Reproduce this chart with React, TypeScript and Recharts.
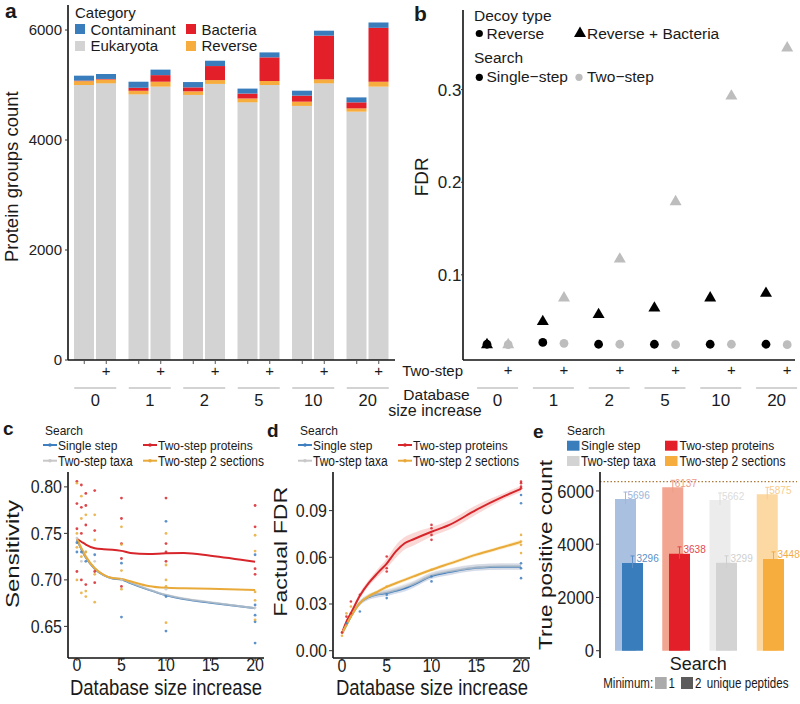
import React from "react";
import {
  BarChart,
  Bar,
  XAxis,
  YAxis,
  ComposedChart,
  Scatter,
  Line,
  Area,
  ReferenceLine,
  LabelList,
  Cell,
} from "recharts";

// ---------- panel a: protein groups by category ----------
const dbSizes = ["0", "1", "2", "5", "10", "20"];
const eukSingle = [5000, 4830, 4820, 4685, 4620, 4515];
const revSingle = [70, 65, 65, 70, 77, 60];
const bacSingle = [10, 55, 72, 90, 110, 110];
const conSingle = [90, 110, 97, 90, 90, 90];
const eukTwo = [5030, 4970, 5020, 5000, 5030, 4970];
const revTwo = [70, 90, 70, 73, 73, 90];
const bacTwo = [10, 120, 255, 430, 795, 980];
const conTwo = [90, 100, 97, 90, 90, 97];

// ---------- panel b: FDR ----------
const fdrRevSingle = [0.025, 0.027, 0.025, 0.025, 0.025, 0.025];
const fdrRevTwo = [0.0245, 0.026, 0.025, 0.0245, 0.025, 0.0245];
const fdrBacSingle = [0.0245, 0.0495, 0.057, 0.064, 0.075, 0.08];
const fdrBacTwo = [0.0245, 0.075, 0.117, 0.179, 0.293, 0.345];

// ---------- panel c: sensitivity ----------
const sensX = [0, 0.5, 1, 2, 3, 4, 5, 6, 8, 10, 12, 15, 20];
const sensSingle = [0.743, 0.733, 0.724, 0.712, 0.705, 0.7015, 0.7005, 0.6965, 0.6895, 0.6835, 0.6795, 0.6755, 0.6695];
const sensProteins = [0.744, 0.741, 0.738, 0.734, 0.733, 0.7325, 0.7312, 0.729, 0.7278, 0.7286, 0.7288, 0.726, 0.7195];
const sensTaxa = [0.744, 0.734, 0.725, 0.7125, 0.7055, 0.702, 0.701, 0.697, 0.69, 0.684, 0.68, 0.676, 0.6695];
const sens2Sections = [0.744, 0.734, 0.725, 0.7125, 0.7055, 0.702, 0.701, 0.6985, 0.6935, 0.6915, 0.691, 0.6905, 0.689];

const sensPtsSingle = [[0, 0.74], [0, 0.73], [0.5, 0.73], [1, 0.72], [2, 0.727], [5, 0.718], [5, 0.66], [10, 0.763], [10, 0.682], [10, 0.645], [20, 0.727], [20, 0.673], [20, 0.662], [20, 0.655], [20, 0.632]];
const sensPtsProteins = [[0, 0.806], [0, 0.782], [0, 0.755], [0, 0.709], [0.5, 0.802], [0.5, 0.778], [0.5, 0.75], [0.5, 0.7], [1, 0.793], [1, 0.78], [1, 0.759], [1, 0.695], [2, 0.796], [2, 0.753], [2, 0.709], [2, 0.697], [5, 0.788], [5, 0.766], [5, 0.739], [5, 0.723], [5, 0.693], [10, 0.788], [10, 0.739], [10, 0.73], [10, 0.72], [20, 0.78], [20, 0.757], [20, 0.712], [20, 0.706]];
const sensPtsTaxa = [[0, 0.745], [0.5, 0.72], [1, 0.73], [2, 0.72], [5, 0.7], [10, 0.69], [20, 0.67]];
const sensPts2Sections = [[0, 0.804], [0, 0.75], [0, 0.735], [0, 0.7], [0.5, 0.79], [0.5, 0.766], [0.5, 0.725], [0.5, 0.686], [1, 0.77], [1, 0.73], [1, 0.688], [1, 0.682], [2, 0.77], [2, 0.743], [2, 0.706], [2, 0.676], [5, 0.757], [5, 0.738], [5, 0.71], [5, 0.69], [10, 0.75], [10, 0.716], [10, 0.7], [10, 0.693], [10, 0.654], [20, 0.748], [20, 0.731], [20, 0.687], [20, 0.678], [20, 0.657]];

// ---------- panel d: factual FDR ----------
const factX = [0, 0.5, 1, 2, 3, 4, 5, 6, 7, 8, 10, 12, 15, 18, 20];
const factSingle = [0.011, 0.0165, 0.022, 0.0306, 0.0345, 0.0362, 0.037, 0.0385, 0.04, 0.0425, 0.048, 0.0505, 0.0533, 0.054, 0.054];
const factProteins = [0.0113, 0.0187, 0.0241, 0.0353, 0.0435, 0.05, 0.056, 0.0636, 0.069, 0.0716, 0.0764, 0.0808, 0.0905, 0.099, 0.104];
const factTaxa = [0.011, 0.0165, 0.022, 0.0306, 0.0347, 0.0365, 0.0375, 0.039, 0.041, 0.043, 0.0485, 0.051, 0.0535, 0.0542, 0.0542];
const fact2Sections = [0.011, 0.0165, 0.022, 0.0306, 0.035, 0.038, 0.041, 0.0433, 0.0455, 0.0477, 0.052, 0.0559, 0.0617, 0.0666, 0.0699];
const factSeSingle = [0.001, 0.001, 0.0012, 0.0015, 0.0018, 0.002, 0.002, 0.002, 0.002, 0.002, 0.002, 0.002, 0.002, 0.002, 0.002];
const factSeProteins = [0.001, 0.001, 0.0015, 0.002, 0.002, 0.0025, 0.003, 0.004, 0.004, 0.004, 0.003, 0.003, 0.003, 0.002, 0.002];
const factSe2Sections = [0.001, 0.001, 0.0012, 0.0012, 0.0012, 0.0012, 0.0012, 0.0012, 0.0012, 0.0012, 0.0012, 0.0012, 0.0012, 0.0012, 0.0015];

const factPtsSingle = [[0.5, 0.0176], [2, 0.0252], [5, 0.0359], [5, 0.0338], [10, 0.0477], [10, 0.0445], [20, 0.1], [20, 0.0947], [20, 0.0562], [20, 0.053], [20, 0.0466]];
const factPtsProteins = [[0, 0.0117], [0.5, 0.0219], [1, 0.0316], [1, 0.024], [2, 0.0359], [5, 0.0605], [5, 0.053], [5, 0.0509], [10, 0.0808], [10, 0.0787], [10, 0.0744], [10, 0.0712], [20, 0.1086], [20, 0.1076], [20, 0.1054], [20, 0.1044]];
const factPts2Sections = [[0, 0.0096], [0.5, 0.024], [1, 0.0284], [2, 0.0306], [5, 0.0412], [10, 0.052], [20, 0.0744], [20, 0.0701], [20, 0.068], [20, 0.0627]];

// ---------- panel e: true positives ----------
const searchNames = ["Single step", "Two-step proteins", "Two-step taxa", "Two-step 2 sections"];
const tpMin1 = [5696, 6137, 5662, 5875];
const tpMin2 = [3296, 3638, 3299, 3448];
const tpReference = 6350;

const FONT = "'Liberation Sans', Arial, Helvetica, sans-serif";
const INK = "#1a1a1a";
const C_BLUE = "#3A7DBC";
const C_RED = "#E3202A";
const C_GREY = "#D3D3D3";
const C_ORANGE = "#F7AC3E";
const L_BLUE = "#3F7FBF";
const L_RED = "#D7262B";
const L_GREY = "#C8C8C8";
const L_ORANGE = "#E9AA3A";
const lightFill = ["#A9C0E1", "#F2A591", "#ECECEC", "#FCD8A2"];
const darkFill = [C_BLUE, C_RED, C_GREY, C_ORANGE];
const lightNote = ["#9EB6DA", "#EE9C86", "#DCDCDC", "#F8CC8E"];
const darkNote = ["#5C8FC6", "#E2474B", "#CFCFCF", "#F2AC45"];

const AXIS = { stroke: "#111", strokeWidth: 1.6 };
const TICKL = { stroke: "#333", strokeWidth: 1 };

const aRows = dbSizes.map((d, i) => ({
  d,
  eukS: eukSingle[i], revS: revSingle[i], bacS: bacSingle[i], conS: conSingle[i],
  eukT: eukTwo[i], revT: revTwo[i], bacT: bacTwo[i], conT: conTwo[i],
}));
const PAIR = 0.19;
const bPts = (vals: number[], side: number) => vals.map((v, i) => ({ x: i + side * PAIR, y: v }));
const pts = (arr: number[][]) => arr.map(([x, y]) => ({ x, y }));
const curve = (xs: number[], ys: number[]) => xs.map((x, i) => ({ x, y: ys[i] }));
const band = (xs: number[], ys: number[], se: number[]) => xs.map((x, i) => ({ x, band: [ys[i] - se[i], ys[i] + se[i]] }));
const eRows = searchNames.map((n, i) => ({ n, v1: tpMin1[i], v2: tpMin2[i] }));

const yTick = (right: number, size: number, sy: number, digits: number) => (p: any) => (
  <text transform={`translate(${right},${p.y}) scale(1,${sy})`} textAnchor="end" dy="0.35em" fontSize={size} fill="#222">
    {Number(p.payload.value).toFixed(digits)}
  </text>
);
const xTick = (cy: number, size: number, sy: number) => (p: any) => (
  <text transform={`translate(${p.x},${cy}) scale(1,${sy})`} textAnchor="middle" dy="0.35em" fontSize={size} fill="#222">
    {p.payload.value}
  </text>
);

function GroupTickA(p: any) {
  const { x, payload } = p;
  return (
    <g>
      <line x1={x - 11} x2={x - 11} y1={361} y2={364} stroke="#555" />
      <line x1={x + 11} x2={x + 11} y1={361} y2={364} stroke="#555" />
      <text x={x + 11} y={371} dy="0.35em" textAnchor="middle" fontSize={15} fill={INK}>+</text>
      <line x1={x - 21} x2={x + 21} y1={388} y2={388} stroke="#a8a8a8" strokeWidth={1.2} />
      <text x={x} y={400.5} dy="0.35em" textAnchor="middle" fontSize={16.5} fill={INK}>{payload.value}</text>
    </g>
  );
}

function GroupTickB(p: any) {
  const { x, payload } = p;
  return (
    <g>
      <text x={x + 10.6} y={370} dy="0.35em" textAnchor="middle" fontSize={15} fill={INK}>+</text>
      <line x1={x - 20.5} x2={x + 20.5} y1={388} y2={388} stroke="#a8a8a8" strokeWidth={1.2} />
      <text x={x} y={400.5} dy="0.35em" textAnchor="middle" fontSize={17} fill={INK}>{dbSizes[payload.value]}</text>
    </g>
  );
}

const dot = (fill: string, r: number, op = 1) => (p: any) => <circle cx={p.cx} cy={p.cy} r={r} fill={fill} fillOpacity={op} />;
const tri = (fill: string, s: number) => (p: any) => {
  const h = s * 0.866;
  return <polygon points={`${p.cx},${p.cy - (h * 2) / 3} ${p.cx - s / 2},${p.cy + h / 3} ${p.cx + s / 2},${p.cy + h / 3}`} fill={fill} />;
};

const barNote = (colors: string[], dx: number, dy: number) => (p: any) => {
  const { x, y, width, index, value } = p;
  const cx = x + width / 2;
  return (
    <g>
      <line x1={cx} x2={cx} y1={y - 7} y2={y + 5} stroke={colors[index]} strokeWidth={1} />
      <line x1={cx - 2} x2={cx + 2} y1={y - 7} y2={y - 7} stroke={colors[index]} strokeWidth={1} />
      <text transform={`translate(${cx + dx},${y + dy}) scale(1,1.15)`} fontSize={10} fill={colors[index]}>{value}</text>
    </g>
  );
};

type TP = {
  x: number; y: number; s: number; a?: "start" | "middle" | "end"; sy?: number;
  rot?: boolean; len?: number; b?: boolean; c?: string; children: React.ReactNode;
};
function Txt({ x, y, s, a = "start", sy = 1, rot = false, len, b, c = INK, children }: TP) {
  return (
    <text
      transform={`translate(${x},${y})${rot ? " rotate(-90)" : ""}${sy !== 1 ? ` scale(1,${sy})` : ""}`}
      fontSize={s}
      textAnchor={a}
      fontWeight={b ? "bold" : undefined}
      fill={c}
      textLength={len}
      lengthAdjust={len ? "spacingAndGlyphs" : undefined}
    >
      {children}
    </text>
  );
}

function LineKey({ x, y, c }: { x: number; y: number; c: string }) {
  return (
    <g>
      <line x1={x} x2={x + 14} y1={y} y2={y} stroke={c} strokeWidth={2} />
      <circle cx={x + 7} cy={y} r={1.8} fill={c} />
    </g>
  );
}

function SearchLegend({ x0, x1 }: { x0: number; x1: number }) {
  return (
    <g>
      <Txt x={x0 + 2} y={434.5} s={12} sy={1.1}>Search</Txt>
      <LineKey x={x0} y={445} c={L_BLUE} />
      <Txt x={x0 + 15} y={449.5} s={12} sy={1.1}>Single step</Txt>
      <LineKey x={x1} y={445} c={L_RED} />
      <Txt x={x1 + 15} y={449.5} s={12} sy={1.1}>Two-step proteins</Txt>
      <LineKey x={x0} y={460.7} c={L_GREY} />
      <Txt x={x0 + 15} y={466} s={12} sy={1.15}>Two-step taxa</Txt>
      <LineKey x={x1} y={460.7} c={L_ORANGE} />
      <Txt x={x1 + 15} y={466} s={12} sy={1.15}>Two-step 2 sections</Txt>
    </g>
  );
}

function Overlay() {
  return (
    <svg width={800} height={704} style={{ position: "absolute", left: 0, top: 0, pointerEvents: "none" }} fontFamily={FONT}>
      {/* panel letters */}
      <Txt x={5} y={18} s={21} b>a</Txt>
      <Txt x={414} y={20.5} s={21} b>b</Txt>
      <Txt x={3} y={435} s={19} b>c</Txt>
      <Txt x={267} y={437} s={19} b>d</Txt>
      <Txt x={533} y={438} s={19} b>e</Txt>

      {/* a legend */}
      <Txt x={75} y={18} s={15}>Category</Txt>
      <rect x={75} y={24} width={10} height={10} fill={C_BLUE} />
      <Txt x={90.5} y={34.5} s={15}>Contaminant</Txt>
      <rect x={186} y={24} width={10} height={10} fill={C_RED} />
      <Txt x={201.5} y={34.5} s={15}>Bacteria</Txt>
      <rect x={75} y={41} width={10} height={10} fill={C_GREY} />
      <Txt x={90.5} y={51} s={15}>Eukaryota</Txt>
      <rect x={186} y={41} width={10} height={10} fill={C_ORANGE} />
      <Txt x={201.5} y={51} s={15}>Reverse</Txt>
      <Txt x={17.5} y={176.7} s={18.5} rot a="middle">Protein groups count</Txt>

      {/* b legend */}
      <Txt x={474} y={20.5} s={15.5}>Decoy type</Txt>
      <circle cx={479.3} cy={33.5} r={3.6} fill="#000" />
      <Txt x={486.5} y={38.7} s={15.5}>Reverse</Txt>
      <polygon points="580,26.5 574,37 586,37" fill="#000" />
      <Txt x={587} y={38.7} s={15.5}>Reverse + Bacteria</Txt>
      <Txt x={474} y={63} s={15.5}>Search</Txt>
      <circle cx={479.3} cy={77.3} r={3.6} fill="#000" />
      <Txt x={486.5} y={82.3} s={15.5}>Single−step</Txt>
      <circle cx={579} cy={77.3} r={3.6} fill="#bdbdbd" />
      <Txt x={587} y={82.3} s={15.5}>Two−step</Txt>
      <Txt x={428} y={176.7} s={19} rot a="middle">FDR</Txt>
      <Txt x={463} y={376} s={15} a="end">Two-step</Txt>
      <Txt x={436.5} y={400} s={15.5} a="middle">Database</Txt>
      <Txt x={435} y={416} s={16} a="middle">size increase</Txt>

      {/* c, d legends and titles */}
      <SearchLegend x0={43} x1={143} />
      <SearchLegend x0={298} x1={398} />
      <Txt x={19} y={554} s={18} rot a="middle" len={108}>Sensitivity</Txt>
      <Txt x={166} y={695} s={18.5} sy={1.15} a="middle">Database size increase</Txt>
      <Txt x={286.7} y={551.7} s={18.5} rot a="middle" len={130}>Factual FDR</Txt>
      <Txt x={432} y={695} s={18.5} sy={1.15} a="middle">Database size increase</Txt>

      {/* e legend and titles */}
      <Txt x={567} y={434.5} s={12} sy={1.1}>Search</Txt>
      <rect x={567} y={440.7} width={12.5} height={10} fill={C_BLUE} />
      <Txt x={581} y={449.5} s={12} sy={1.1}>Single step</Txt>
      <rect x={665} y={440.7} width={12.5} height={10} fill={C_RED} />
      <Txt x={679.5} y={449.5} s={12} sy={1.1}>Two-step proteins</Txt>
      <rect x={567} y={456} width={12.5} height={10} fill={C_GREY} />
      <Txt x={581} y={466} s={12} sy={1.15}>Two-step taxa</Txt>
      <rect x={665} y={456} width={12.5} height={10} fill={C_ORANGE} />
      <Txt x={679.5} y={466} s={12} sy={1.15}>Two-step 2 sections</Txt>
      <Txt x={551.7} y={555} s={18.5} rot a="middle" len={190}>True positive count</Txt>
      <Txt x={698.3} y={670} s={18} sy={1.05} a="middle">Search</Txt>
      <Txt x={603.3} y={688.3} s={11.5} sy={1.2}>Minimum:</Txt>
      <rect x={655} y={677} width={11.7} height={12} fill="#ababab" />
      <Txt x={668.5} y={688.3} s={11.5} sy={1.2}>1</Txt>
      <rect x={681} y={677} width={12} height={12} fill="#5c5c5c" />
      <Txt x={695} y={688.3} s={11.5} sy={1.2}>2</Txt>
      <Txt x={706.7} y={688.3} s={11.6} sy={1.2}>unique peptides</Txt>
    </svg>
  );
}

function PanelA() {
  const parts: [string, string, string][] = [
    ["eukS", "s", C_GREY], ["revS", "s", C_ORANGE], ["bacS", "s", C_RED], ["conS", "s", C_BLUE],
    ["eukT", "t", C_GREY], ["revT", "t", C_ORANGE], ["bacT", "t", C_RED], ["conT", "t", C_BLUE],
  ];
  return (
    <BarChart width={400} height={420} data={aRows} margin={{ top: 5, right: 5, bottom: 0, left: 0 }} barGap={2} barSize={20}>
      <XAxis dataKey="d" height={60} interval={0} axisLine={AXIS} tickLine={false} tick={<GroupTickA />} />
      <YAxis width={68} domain={[0, 6455]} ticks={[0, 2000, 4000, 6000]} allowDataOverflow axisLine={AXIS} tickLine={TICKL} tickSize={3} tickMargin={2} tick={yTick(62, 15, 1, 0)} />
      {parts.map(([k, s, c]) => (
        <Bar key={k} dataKey={k} stackId={s} fill={c} isAnimationActive={false} />
      ))}
    </BarChart>
  );
}

function PanelB() {
  return (
    <ComposedChart width={400} height={420} margin={{ top: 10, right: 5, bottom: 0, left: 0 }}>
      <XAxis type="number" dataKey="x" domain={[-0.62, 5.33]} ticks={[0, 1, 2, 3, 4, 5]} allowDataOverflow height={60} axisLine={AXIS} tickLine={false} tick={<GroupTickB />} />
      <YAxis type="number" dataKey="y" width={63} domain={[0.008, 0.386]} ticks={[0.1, 0.2, 0.3]} allowDataOverflow axisLine={AXIS} tickLine={TICKL} tickSize={2} tickMargin={0} tick={yTick(61.5, 17, 1, 1)} />
      <Scatter data={bPts(fdrRevSingle, -1)} shape={dot("#000", 4.4)} isAnimationActive={false} />
      <Scatter data={bPts(fdrRevTwo, 1)} shape={dot("#bdbdbd", 4.4)} isAnimationActive={false} />
      <Scatter data={bPts(fdrBacSingle, -1)} shape={tri("#000", 12)} isAnimationActive={false} />
      <Scatter data={bPts(fdrBacTwo, 1)} shape={tri("#bdbdbd", 12)} isAnimationActive={false} />
    </ComposedChart>
  );
}

function PanelC() {
  const series: [number[], number[][], string][] = [
    [sensSingle, sensPtsSingle, L_BLUE],
    [sensProteins, sensPtsProteins, L_RED],
    [sensTaxa, sensPtsTaxa, L_GREY],
    [sens2Sections, sensPts2Sections, L_ORANGE],
  ];
  return (
    <ComposedChart width={270} height={244} margin={{ top: 12, right: 6, bottom: 0, left: 0 }}>
      <XAxis type="number" dataKey="x" domain={[-1, 21]} ticks={[0, 5, 10, 15, 20]} allowDataOverflow height={46} axisLine={AXIS} tickLine={TICKL} tickSize={3} tick={xTick(205, 16, 1.1)} />
      <YAxis type="number" dataKey="y" width={68} domain={[0.616, 0.816]} ticks={[0.65, 0.7, 0.75, 0.8]} allowDataOverflow axisLine={AXIS} tickLine={TICKL} tickSize={4} tickMargin={2} tick={yTick(62, 16, 1.15, 2)} />
      {series.map(([, p, c], i) => (
        <Scatter key={`p${i}`} data={pts(p)} shape={dot(c, 1.4, 0.85)} isAnimationActive={false} />
      ))}
      {series.map(([ys, , c], i) => (
        <Line key={`l${i}`} data={curve(sensX, ys)} dataKey="y" type="monotone" stroke={c} strokeWidth={2} strokeOpacity={i === 2 ? 0.75 : 1} dot={false} isAnimationActive={false} />
      ))}
    </ComposedChart>
  );
}

function PanelD() {
  const series: [number[], number[], string, string][] = [
    [factSingle, factSeSingle, L_BLUE, "#9fb3dc"],
    [factProteins, factSeProteins, L_RED, "#f1a9a3"],
    [factTaxa, factSeSingle, L_GREY, "#d8d8d8"],
    [fact2Sections, factSe2Sections, L_ORANGE, "#f6dc9c"],
  ];
  return (
    <ComposedChart width={266} height={244} margin={{ top: 12, right: 1, bottom: 0, left: 0 }}>
      <XAxis type="number" dataKey="x" domain={[-1, 21]} ticks={[0, 5, 10, 15, 20]} allowDataOverflow height={46} axisLine={AXIS} tickLine={TICKL} tickSize={3} tick={xTick(206, 16, 1.1)} />
      <YAxis type="number" dataKey="y" width={68} domain={[-0.0047, 0.1148]} ticks={[0, 0.03, 0.06, 0.09]} allowDataOverflow axisLine={AXIS} tickLine={TICKL} tickSize={4} tickMargin={2} tick={yTick(62, 16, 1.15, 2)} />
      {series.map(([ys, se, , f], i) => (
        <Area key={`a${i}`} data={band(factX, ys, se)} dataKey="band" type="monotone" stroke="none" fill={f} fillOpacity={0.45} isAnimationActive={false} />
      ))}
      <Scatter data={pts(factPtsSingle)} shape={dot(L_BLUE, 1.3, 0.85)} isAnimationActive={false} />
      <Scatter data={pts(factPtsProteins)} shape={dot(L_RED, 1.3, 0.85)} isAnimationActive={false} />
      <Scatter data={pts(factPts2Sections)} shape={dot(L_ORANGE, 1.3, 0.85)} isAnimationActive={false} />
      {series.map(([ys, , c], i) => (
        <Line key={`l${i}`} data={curve(factX, ys)} dataKey="y" type="monotone" stroke={c} strokeWidth={2} strokeOpacity={i === 2 ? 0.7 : 1} dot={false} isAnimationActive={false} />
      ))}
    </ComposedChart>
  );
}

function PanelE() {
  return (
    <ComposedChart width={270} height={244} data={eRows} margin={{ top: 12, right: 3, bottom: 0, left: 0 }}>
      <XAxis xAxisId="main" dataKey="n" padding={{ left: 4, right: 4 }} height={46} axisLine={AXIS} tickLine={TICKL} tickSize={3} tick={() => <g />} />
      <XAxis xAxisId="light" dataKey="n" padding={{ left: 2, right: 6 }} hide />
      <XAxis xAxisId="dark" dataKey="n" padding={{ left: 9, right: 0 }} hide />
      <YAxis width={70} domain={[-274, 6712]} ticks={[0, 2000, 4000, 6000]} allowDataOverflow axisLine={AXIS} tickLine={TICKL} tickSize={4} tickMargin={2} tick={yTick(64, 16.5, 1.15, 0)} />
      <Bar xAxisId="light" dataKey="v1" barSize={21} isAnimationActive={false}>
        {tpMin1.map((_, i) => <Cell key={i} fill={lightFill[i]} />)}
        <LabelList dataKey="v1" content={barNote(lightNote, 2, 0)} />
      </Bar>
      <Bar xAxisId="dark" dataKey="v2" barSize={21} isAnimationActive={false}>
        {tpMin2.map((_, i) => <Cell key={i} fill={darkFill[i]} />)}
        <LabelList dataKey="v2" content={barNote(darkNote, 4, -1)} />
      </Bar>
      <ReferenceLine xAxisId="main" y={tpReference} stroke="#b07a3a" strokeWidth={1.3} strokeDasharray="1.5 2" />
    </ComposedChart>
  );
}

export default function App() {
  return (
    <div style={{ position: "absolute", left: 0, top: 0, width: 800, height: 704, background: "#fff", overflow: "hidden", fontFamily: FONT }}>
      <div style={{ position: "absolute", left: 0, top: 0 }}><PanelA /></div>
      <div style={{ position: "absolute", left: 400, top: 0 }}><PanelB /></div>
      <div style={{ position: "absolute", left: 0, top: 460 }}><PanelC /></div>
      <div style={{ position: "absolute", left: 265, top: 460 }}><PanelD /></div>
      <div style={{ position: "absolute", left: 530, top: 460 }}><PanelE /></div>
      <Overlay />
    </div>
  );
}
